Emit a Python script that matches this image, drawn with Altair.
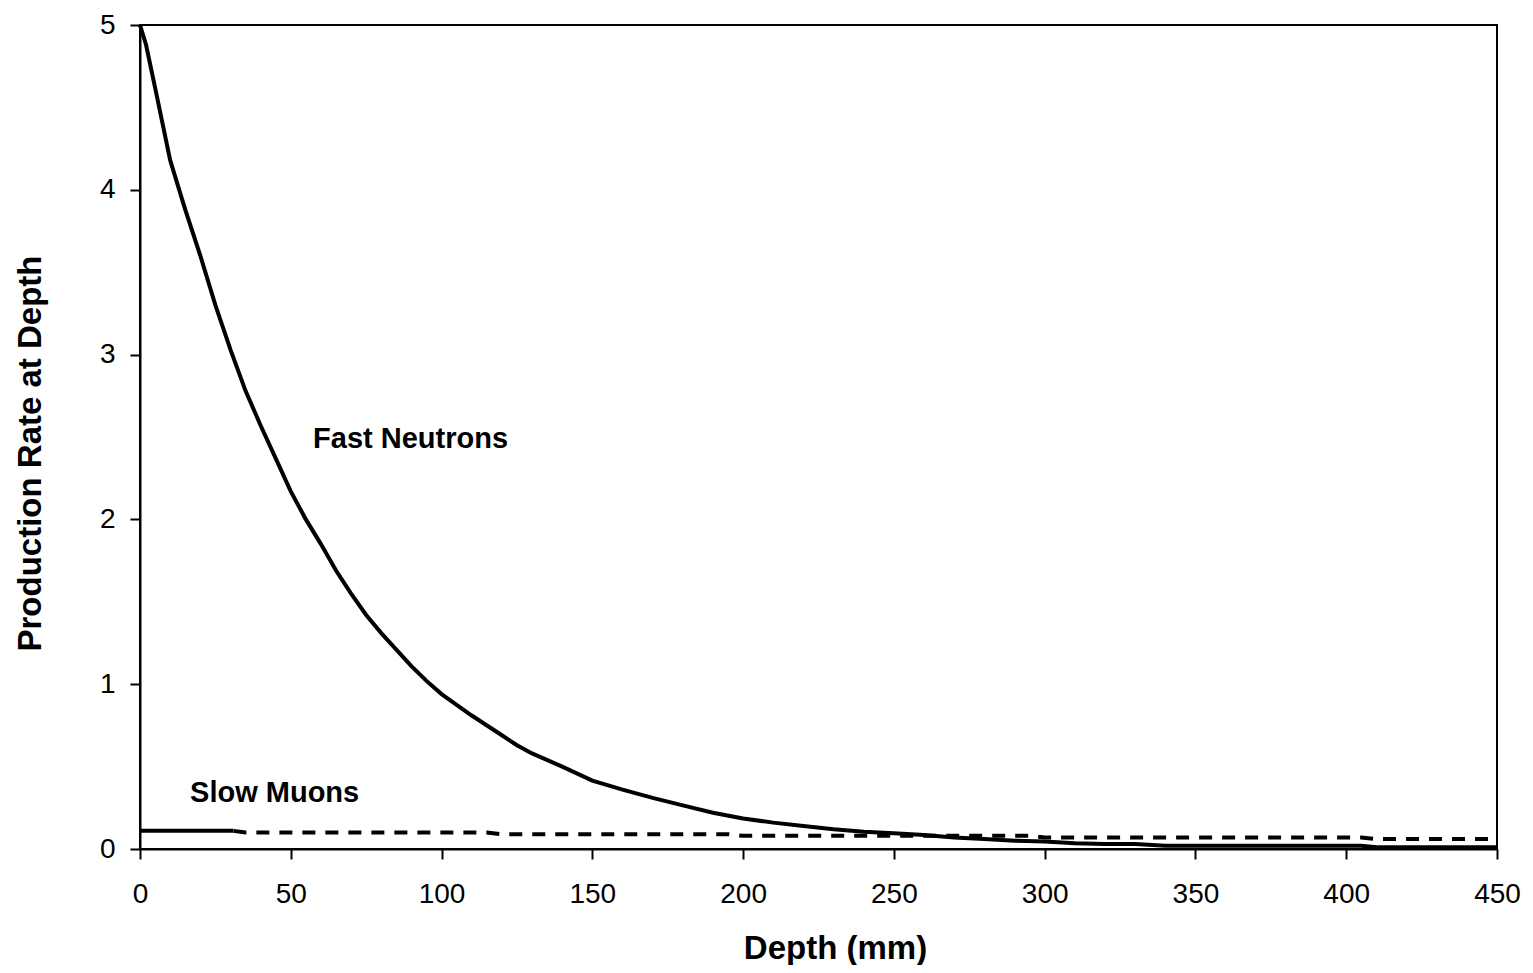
import altair as alt
import pandas as pd

# Fast neutrons production rate vs depth
fast_depth = [0, 2, 5, 10, 15, 20, 25, 30, 35, 40, 45, 50, 55, 60, 65, 70, 75, 80, 85, 90,
              95, 100, 110, 120, 125, 130, 140, 150, 160, 170, 180, 190, 200, 210, 220, 230,
              240, 250, 260, 270, 280, 290, 300, 310, 320, 330, 340, 350, 380, 405, 410, 450]
fast_rate = [5.0, 4.88, 4.62, 4.18, 3.88, 3.60, 3.30, 3.03, 2.78, 2.57, 2.37, 2.17, 2.00, 1.85,
             1.69, 1.55, 1.42, 1.31, 1.21, 1.11, 1.02, 0.94, 0.81, 0.69, 0.63, 0.58, 0.50, 0.415,
             0.36, 0.31, 0.265, 0.22, 0.185, 0.16, 0.14, 0.12, 0.105, 0.095, 0.085, 0.07, 0.06,
             0.05, 0.045, 0.035, 0.03, 0.03, 0.02, 0.02, 0.02, 0.02, 0.01, 0.01]

# Slow muons: solid start, then dashed
muon_solid_depth = [0, 31]
muon_solid_rate = [0.11, 0.11]
muon_dash_depth = [31, 35, 115, 120, 195, 200, 295, 300, 405, 410, 450]
muon_dash_rate = [0.11, 0.10, 0.10, 0.09, 0.09, 0.08, 0.08, 0.07, 0.07, 0.06, 0.06]

label_text = ["Fast Neutrons", "Slow Muons"]
label_depth = [57.4, 16.6]
label_rate = [2.49, 0.34]

x_ticks = [0, 50, 100, 150, 200, 250, 300, 350, 400, 450]
y_ticks = [0, 1, 2, 3, 4, 5]

FONT = "Liberation Sans"

fast_df = pd.DataFrame({"depth": fast_depth, "rate": fast_rate})
solid_df = pd.DataFrame({"depth": muon_solid_depth, "rate": muon_solid_rate})
dash_df = pd.DataFrame({"depth": muon_dash_depth, "rate": muon_dash_rate})
label_df = pd.DataFrame({"text": label_text, "depth": label_depth, "rate": label_rate})

common_axis = dict(grid=False, tickSize=10, labelFontSize=28, titleFontSize=33,
                   titleFontWeight="bold", labelFlush=False, domainColor="black",
                   domainWidth=2, domainOpacity=1, tickColor="black", tickWidth=2,
                   tickOpacity=1, labelColor="black", titleColor="black",
                   labelFont=FONT, titleFont=FONT, format="d")

x_enc = alt.X("depth:Q",
              scale=alt.Scale(domain=[0, 450], nice=False, zero=True),
              axis=alt.Axis(values=x_ticks, title="Depth (mm)", labelPadding=21,
                            titleX=695, titleY=99, titleBaseline="middle",
                            **common_axis))
y_enc = alt.Y("rate:Q",
              scale=alt.Scale(domain=[0, 5], nice=False),
              axis=alt.Axis(values=y_ticks, title="Production Rate at Depth",
                            labelPadding=15,
                            titleX=-110, titleY=428, titleAngle=270,
                            titleBaseline="middle", titleAlign="center",
                            **common_axis))

fast = alt.Chart(fast_df).mark_line(color="black", strokeWidth=4).encode(x=x_enc, y=y_enc)
solid = alt.Chart(solid_df).mark_line(color="black", strokeWidth=4).encode(x="depth:Q", y="rate:Q")
dash = alt.Chart(dash_df).mark_line(color="black", strokeWidth=4, strokeDash=[13, 10]).encode(
    x="depth:Q", y="rate:Q")
labels = alt.Chart(label_df).mark_text(
    align="left", baseline="middle", font=FONT, fontSize=29, fontWeight="bold", color="black"
).encode(x="depth:Q", y="rate:Q", text="text:N")

chart = alt.layer(fast, solid, dash, labels).properties(
    width=1357, height=824,
    padding={"left": 132, "top": 17, "right": 26, "bottom": 116},
    autosize="none",
    background="white",
).configure_view(
    stroke="black", strokeWidth=2, strokeOpacity=1
)

chart.save("out.html", embed_options={"renderer": "svg", "actions": False})
